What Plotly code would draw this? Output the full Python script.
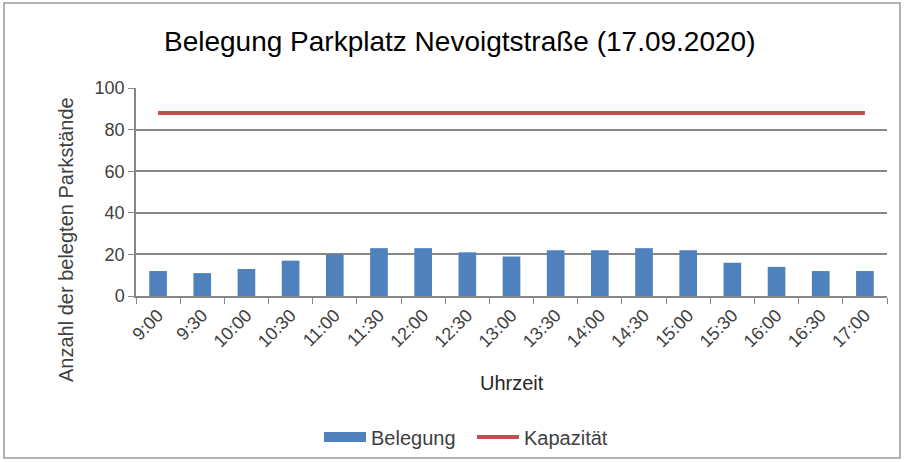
import plotly.graph_objects as go

times = ["9:00", "9:30", "10:00", "10:30", "11:00", "11:30", "12:00", "12:30", "13:00",
         "13:30", "14:00", "14:30", "15:00", "15:30", "16:00", "16:30", "17:00"]
belegung = [12, 11, 13, 17, 20, 23, 23, 21, 19, 22, 22, 23, 22, 16, 14, 12, 12]
kapazitaet = [88] * len(times)

W, H = 904, 462
L, R, T, B = 136, 17, 88, 166
pw, ph = W - L - R, H - T - B

font = "Liberation Sans, Arial, sans-serif"
blue = "#4F81BD"
red = "#C0504D"

fig = go.Figure()
fig.add_trace(go.Bar(x=times, y=belegung, name="Belegung", marker_color=blue,
                     marker_line_width=0, showlegend=False))
# legend proxy for the bar series (wide rectangle like the original legend key)
fig.add_trace(go.Scatter(x=[None], y=[None], name="Belegung", mode="lines",
                         line=dict(color=blue, width=10)))
fig.add_trace(go.Scatter(x=times, y=kapazitaet, name="Kapazität", mode="lines",
                         line=dict(color=red, width=4)))

def px_x(p):
    return (p - L) / pw

def px_y(p):
    return (H - B - p) / ph

fig.update_layout(
    width=W, height=H,
    margin=dict(l=L, r=R, t=T, b=B),
    paper_bgcolor="white", plot_bgcolor="white",
    font=dict(family=font, color="#404040", size=18),
    bargap=0.6,
    showlegend=True,
    legend=dict(orientation="h", xref="container", yref="container",
                x=472 / W, y=(H - 437) / H, xanchor="center", yanchor="middle",
                font=dict(size=20, color="#404040"), itemwidth=42, traceorder="normal",
                entrywidth=96, entrywidthmode="pixels"),
    xaxis=dict(type="category", tickangle=-45, showgrid=False, showline=True, automargin=False,
               linecolor="#868686", linewidth=1.5, ticks="outside", ticklen=6,
               tickcolor="#868686", tickson="boundaries", tickfont=dict(size=18, color="#404040")),
    yaxis=dict(range=[0, 100], dtick=20, showgrid=True, gridcolor="#868686", gridwidth=1.5,
               automargin=False,
               showline=True, linecolor="#868686", linewidth=1.5, ticks="outside", ticklen=6,
               tickcolor="#868686", tickfont=dict(size=18, color="#404040"), zeroline=False),
    annotations=[
        dict(text="Belegung Parkplatz Nevoigtstraße (17.09.2020)", xref="paper", yref="paper",
             x=px_x(459), y=px_y(42), showarrow=False, xanchor="center", yanchor="middle",
             font=dict(size=28, color="#000000", family=font)),
        dict(text="Uhrzeit", xref="paper", yref="paper", x=px_x(512), y=px_y(383),
             showarrow=False, xanchor="center", yanchor="middle",
             font=dict(size=20, color="#262626", family=font)),
        dict(text="Anzahl der belegten Parkstände", xref="paper", yref="paper", x=px_x(66),
             y=px_y(240), showarrow=False, textangle=-90, xanchor="center", yanchor="middle",
             font=dict(size=20, color="#404040", family=font)),
    ],
    shapes=[
        dict(type="rect", xref="paper", yref="paper", x0=px_x(4), x1=px_x(900), y0=px_y(458),
             y1=px_y(3), line=dict(color="#9a9a9a", width=1.5), fillcolor="rgba(0,0,0,0)"),
    ],
)

fig.write_html("out.html", config={"displayModeBar": False},
               post_script="document.body.style.margin='0px';document.body.style.padding='0px';"
                           "document.body.style.overflow='hidden';")
